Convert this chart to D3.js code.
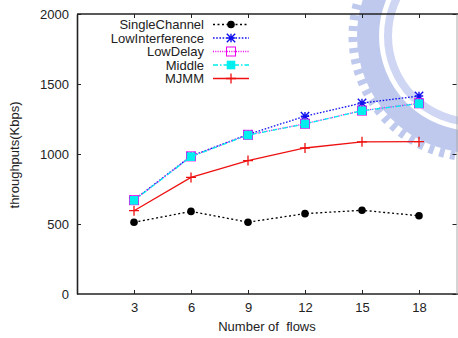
<!DOCTYPE html>
<html><head><meta charset="utf-8">
<script src="https://cdn.jsdelivr.net/npm/d3@7"></script>
<style>body{margin:0;background:#fff}svg{display:block}text{font-family:"Liberation Sans",Arial,sans-serif;fill:#222}</style>
</head><body><svg id="c" width="458" height="338"></svg>
<script>
const flows = [3, 6, 9, 12, 15, 18];
const xTicks = [3, 6, 9, 12, 15, 18];
const yTicks = [0, 500, 1000, 1500, 2000];
const seriesNames = ["SingleChannel", "LowInterference", "LowDelay", "Middle", "MJMM"];
const singleChannel = [512, 590, 513, 574, 598, 559];
const lowInterference = [672, 985, 1140, 1270, 1364, 1414];
const lowDelay = [670, 983, 1137, 1216, 1310, 1362];
const middle = [669, 981, 1135, 1215, 1309, 1360];
const mjmm = [595, 833, 953, 1043, 1087, 1088];

const styles = {
  SingleChannel: {color: "#000", dash: "2,2.5", marker: "circle"},
  LowInterference: {color: "#1010ee", dash: "1.6,1.6", marker: "star"},
  LowDelay: {color: "#ee00ee", dash: "1,1.3", marker: "osquare"},
  Middle: {color: "#00eeee", dash: "5,2,1.5,2", marker: "fsquare"},
  MJMM: {color: "#ee1111", dash: null, marker: "plus"}
};
const data = [singleChannel, lowInterference, lowDelay, middle, mjmm];

const svg = d3.select("#c");
const L = 77, R = 456.5, T = 14, B = 294;
const x = d3.scaleLinear().domain([0, 20]).range([L, L + 380]);
const y = d3.scaleLinear().domain([0, 2000]).range([B, T]);

// watermark (faint logo)
const wm = svg.append("g").attr("opacity", 0.55);
wm.append("circle").attr("cx", 474).attr("cy", 36).attr("r", 106)
  .attr("fill", "none").attr("stroke", "#8a9de0").attr("stroke-width", 22);
wm.append("circle").attr("cx", 474).attr("cy", 36).attr("r", 121)
  .attr("fill", "none").attr("stroke", "#8a9de0").attr("stroke-width", 9).attr("stroke-dasharray", "5,6");
wm.append("circle").attr("cx", 474).attr("cy", 36).attr("r", 86)
  .attr("fill", "none").attr("stroke", "#a9b6ea").attr("stroke-width", 8);

// axes
const axCol = "#222";
const gx = svg.append("g").attr("transform", `translate(0,${B})`)
  .call(d3.axisBottom(x).tickValues(xTicks).tickSize(-4).tickPadding(9).tickSizeOuter(0).tickFormat(d3.format("d")));
const gxt = svg.append("g").attr("transform", `translate(0,${T})`)
  .call(d3.axisTop(x).tickValues(xTicks).tickSize(-4).tickFormat("").tickSizeOuter(0));
const gy = svg.append("g").attr("transform", `translate(${L},0)`)
  .call(d3.axisLeft(y).tickValues(yTicks).tickSize(-4).tickPadding(8).tickSizeOuter(0).tickFormat(d3.format("d")));
const gyr = svg.append("g").attr("transform", `translate(${R},0)`)
  .call(d3.axisRight(y).tickValues(yTicks).tickSize(-4).tickFormat("").tickSizeOuter(0));
[gx, gxt, gy, gyr].forEach(g => {
  g.selectAll(".domain").attr("stroke", axCol).attr("stroke-width", 1.6);
  g.selectAll(".tick line").attr("stroke", axCol).attr("stroke-width", 1);
  g.selectAll("text").attr("font-size", 13).attr("fill", "#222")
    .style("font-family", '"Liberation Sans",Arial,sans-serif');
});
gyr.select(".domain").attr("stroke", "#aaa").attr("stroke-width", 1);
gx.select(".domain").attr("d", `M${L},0H458`);
gxt.select(".domain").attr("d", `M${L},0H458`);
gy.selectAll(".tick").filter(d => d === 0).select("line").remove();

svg.append("text").attr("x", 267).attr("y", 331).attr("text-anchor", "middle")
  .attr("font-size", 13).style("white-space", "pre").text("Number of  flows");
svg.append("text").attr("transform", "translate(19,155) rotate(-90)")
  .attr("text-anchor", "middle").attr("font-size", 13).text("throughputs(Kbps)");

function marker(g, type, color, cx, cy) {
  if (type === "circle") {
    g.append("circle").attr("cx", cx).attr("cy", cy).attr("r", 3.8).attr("fill", color);
  } else if (type === "star") {
    const s = 4.2, p = d3.path();
    p.moveTo(cx - s, cy); p.lineTo(cx + s, cy);
    p.moveTo(cx, cy - s); p.lineTo(cx, cy + s);
    p.moveTo(cx - s, cy - s); p.lineTo(cx + s, cy + s);
    p.moveTo(cx - s, cy + s); p.lineTo(cx + s, cy - s);
    g.append("path").attr("d", p.toString()).attr("stroke", color).attr("stroke-width", 1.4).attr("fill", "none");
  } else if (type === "osquare") {
    g.append("rect").attr("x", cx - 4.5).attr("y", cy - 4.5).attr("width", 9).attr("height", 9)
      .attr("fill", "none").attr("stroke", color).attr("stroke-width", 1);
  } else if (type === "fsquare") {
    g.append("rect").attr("x", cx - 4.3).attr("y", cy - 4.3).attr("width", 8.6).attr("height", 8.6)
      .attr("fill", color);
  } else if (type === "plus") {
    const s = 5, p = d3.path();
    p.moveTo(cx - s, cy); p.lineTo(cx + s, cy);
    p.moveTo(cx, cy - s); p.lineTo(cx, cy + s);
    g.append("path").attr("d", p.toString()).attr("stroke", color).attr("stroke-width", 1.3).attr("fill", "none");
  }
}

const line = d3.line().x(d => x(d[0])).y(d => y(d[1]));
seriesNames.forEach((name, i) => {
  const st = styles[name];
  const pts = flows.map((f, j) => [f, data[i][j]]);
  const g = svg.append("g");
  const l = g.append("path").attr("d", line(pts)).attr("fill", "none")
    .attr("stroke", st.color).attr("stroke-width", 1.3);
  if (st.dash) l.attr("stroke-dasharray", st.dash);
  pts.forEach(p => marker(g, st.marker, st.color, x(p[0]), y(p[1])));
  // legend
  const ly = 24.5 + i * 13.5;
  svg.append("text").attr("x", 204).attr("y", ly + 4.5).attr("text-anchor", "end")
    .attr("font-size", 13).text(name);
  const ll = svg.append("path").attr("d", `M213,${ly}H249`).attr("fill", "none")
    .attr("stroke", st.color).attr("stroke-width", 1.3);
  if (st.dash) ll.attr("stroke-dasharray", st.dash);
  marker(svg, st.marker, st.color, 231, ly);
});
</script></body></html>
